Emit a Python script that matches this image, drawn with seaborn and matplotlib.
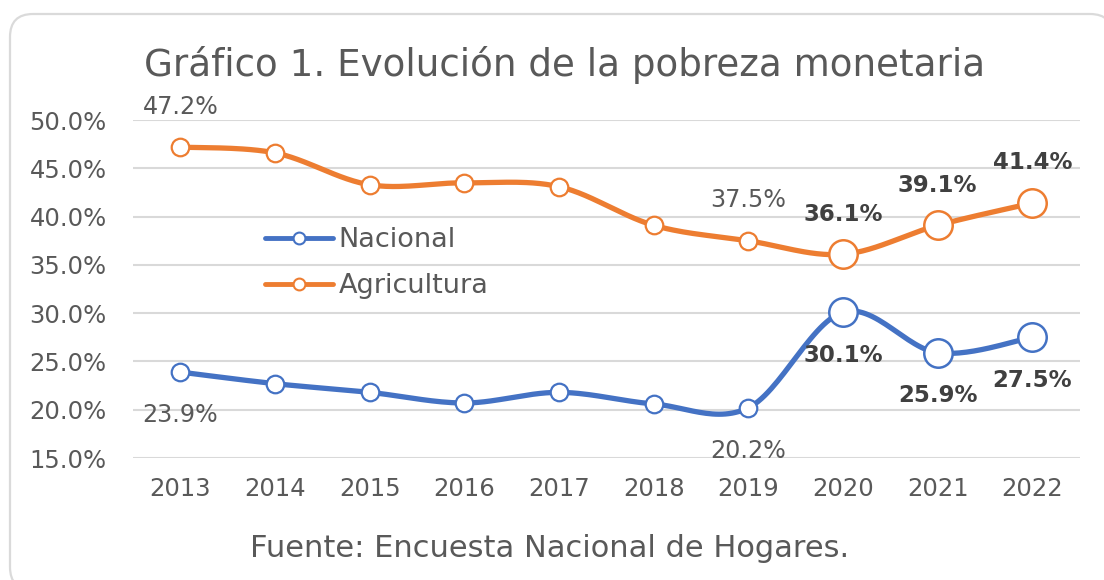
import numpy as np
import pandas as pd
import matplotlib
matplotlib.use("Agg")
import matplotlib.pyplot as plt
from matplotlib.patches import FancyBboxPatch
from matplotlib.lines import Line2D
from matplotlib.transforms import IdentityTransform
import seaborn as sns

years = ["2013", "2014", "2015", "2016", "2017", "2018", "2019", "2020", "2021", "2022"]
nacional = [23.9, 22.7, 21.8, 20.7, 21.8, 20.6, 20.2, 30.1, 25.9, 27.5]
agricultura = [47.2, 46.6, 43.3, 43.5, 43.1, 39.1, 37.5, 36.1, 39.1, 41.4]
ytick_vals = [15, 20, 25, 30, 35, 40, 45, 50]

# which points carry a label, and which are bold / big marker
label_idx = [0, 6, 7, 8, 9]
bold_idx = [7, 8, 9]

sns.set_theme(style="white")
plt.rcParams["font.family"] = ["DejaVu Sans"]

BLUE = "#4472C4"
ORANGE = "#ED7D31"
GRAY = "#595959"


def smooth(y, n=30):
    # Excel style smoothed line (Catmull-Rom as cubic Bezier)
    p = np.column_stack([np.arange(len(y)), y]).astype(float)
    ext = np.vstack([p[0], p, p[-1]])
    out = []
    for i in range(len(p) - 1):
        p0, p1, p2, p3 = ext[i], ext[i + 1], ext[i + 2], ext[i + 3]
        b1 = p1 + (p2 - p0) / 6
        b2 = p2 - (p3 - p1) / 6
        t = np.linspace(0, 1, n)[:, None]
        seg = (1 - t) ** 3 * p1 + 3 * (1 - t) ** 2 * t * b1 + 3 * (1 - t) * t ** 2 * b2 + t ** 3 * p2
        out.append(seg)
    return np.vstack(out)


fig = plt.figure(figsize=(11.04, 5.8), dpi=100)
# rounded frame, in pixels
fig.patches.append(FancyBboxPatch((10, -10), 1103, 576, boxstyle="round,pad=0,rounding_size=23",
                                  transform=IdentityTransform(), facecolor="white", edgecolor="#DADADA",
                                  linewidth=1.6, zorder=-1))
ax = fig.add_axes([0.1205, 0.2103, 0.8575, 0.5827])

for vals, color in [(nacional, BLUE), (agricultura, ORANGE)]:
    c = smooth(vals)
    curve = pd.DataFrame({"x": c[:, 0], "y": c[:, 1]})
    sns.lineplot(data=curve, x="x", y="y", ax=ax, color=color, linewidth=3.8, sort=False, zorder=2)
    pts = pd.DataFrame({"x": np.arange(len(vals)), "y": vals,
                        "big": [i in bold_idx for i in range(len(vals))]})
    sns.scatterplot(data=pts[~pts.big], x="x", y="y", ax=ax, s=160, color="white",
                    edgecolor=color, linewidth=1.6, zorder=3)
    sns.scatterplot(data=pts[pts.big], x="x", y="y", ax=ax, s=420, color="white",
                    edgecolor=color, linewidth=1.8, zorder=3)

for i in label_idx:
    bold = i in bold_idx
    w = "bold" if bold else "normal"
    col = "#404040" if bold else GRAY
    fs = 16.5 if bold else 17.2
    ax.annotate(f"{agricultura[i]:.1f}%", (i, agricultura[i]), xytext=(0, 29), textcoords="offset points",
                ha="center", va="center", fontsize=fs, fontweight=w, color=col)
    ax.annotate(f"{nacional[i]:.1f}%", (i, nacional[i]), xytext=(0, -31), textcoords="offset points",
                ha="center", va="center", fontsize=fs, fontweight=w, color=col)

ax.set_xlim(-0.5, 9.5)
ax.set_ylim(15, 50)
ax.set_xticks(range(len(years)))
ax.set_xticklabels(years)
ax.set_yticks(ytick_vals)
ax.set_yticklabels([f"{v:.1f}%" for v in ytick_vals])
ax.tick_params(axis="x", labelsize=17.5, colors=GRAY, length=0, pad=14)
ax.tick_params(axis="y", labelsize=17.5, colors=GRAY, length=0, pad=19)
ax.set_xlabel("")
ax.set_ylabel("")
ax.grid(axis="y", color="#D9D9D9", linewidth=1.5)
ax.set_axisbelow(True)
for s in ax.spines.values():
    s.set_visible(False)

handles = [Line2D([], [], color=BLUE, lw=3.5, marker="o", ms=8.5, mfc="white", mec=BLUE, mew=1.5),
           Line2D([], [], color=ORANGE, lw=3.5, marker="o", ms=8.5, mfc="white", mec=ORANGE, mew=1.5)]
leg = ax.legend(handles, ["Nacional", "Agricultura"], loc="upper left", bbox_to_anchor=(0.114, 0.755),
                frameon=False, fontsize=19.5, handlelength=2.5, handletextpad=0.2, labelspacing=0.74,
                labelcolor=GRAY)

fig.text(0.511, 0.888, "Gráfico 1. Evolución de la pobreza monetaria", ha="center", va="center",
         fontsize=26.8, color=GRAY)
fig.text(0.498, 0.055, "Fuente: Encuesta Nacional de Hogares.", ha="center", va="center",
         fontsize=22, color=GRAY)

fig.savefig("out.png", dpi=100)
